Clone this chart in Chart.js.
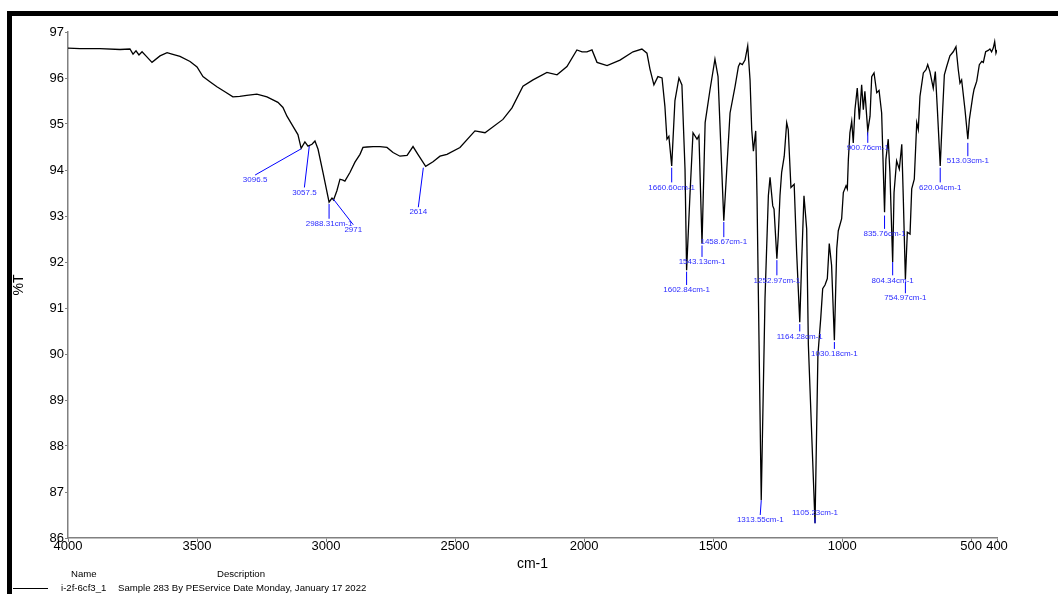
<!DOCTYPE html>
<html>
<head>
<meta charset="utf-8">
<script src="https://cdn.jsdelivr.net/npm/chart.js@4.4.0/dist/chart.umd.min.js"></script>
<style>
  html,body{margin:0;padding:0;background:#fff;}
  body{width:1058px;height:594px;position:relative;overflow:hidden;font-family:"Liberation Sans",Arial,sans-serif;}
  canvas{position:absolute;left:0;top:0;}
  #frame{position:absolute;left:7px;top:11px;right:0;bottom:0;border-top:5px solid #000;border-left:5px solid #000;pointer-events:none;}
  .leg{position:absolute;font-size:9.6px;color:#000;white-space:nowrap;line-height:12px;}
  #legline{position:absolute;left:13px;top:588px;width:35px;height:1px;background:#000;}
</style>
</head>
<body>
<canvas id="ir" width="1058" height="594" style="width:1058px;height:594px"></canvas>
<div id="frame"></div>
<div class="leg" style="left:71px;top:568px">Name</div>
<div class="leg" style="left:217px;top:568px">Description</div>
<div id="legline"></div>
<div class="leg" style="left:61px;top:582px">i-2f-6cf3_1</div>
<div class="leg" style="left:118px;top:582px">Sample 283 By PEService Date Monday, January 17 2022</div>
<script>
const wn = [
  4000, 3953.5, 3876, 3798.5, 3760, 3748, 3736.5, 3725, 3713, 3698,
  3674.5, 3643.5, 3616, 3597, 3566, 3527, 3500, 3477, 3450, 3423,
  3392, 3361, 3334.5, 3307.5, 3268, 3229, 3186.5, 3167, 3151.5, 3128,
  3109, 3096.5, 3082, 3070, 3054.5, 3043, 3031, 3012, 2988.3, 2977,
  2971, 2958, 2946, 2934.5, 2927, 2907, 2888, 2868.5, 2857, 2841,
  2818, 2791, 2764, 2740.5, 2713.5, 2686, 2663, 2644, 2614, 2585.5,
  2558.5, 2531.5, 2481, 2423, 2384, 2314.5, 2279.5, 2237, 2198, 2144,
  2105, 2066.5, 2028, 2008, 1989, 1969.5, 1950, 1911, 1861, 1810.5,
  1776, 1756.5, 1745, 1729.5, 1714, 1698, 1687, 1679, 1671.5, 1660.6,
  1648, 1632.5, 1621, 1609, 1602.8, 1590, 1578, 1562.5, 1555, 1543.1,
  1531, 1512, 1493, 1481, 1458.7, 1434.5, 1415, 1402, 1396, 1387,
  1376.5, 1366, 1357, 1350.5, 1344, 1335, 1330, 1313.6, 1299, 1286,
  1279.5, 1269, 1264, 1253, 1247.5, 1241, 1234.5, 1224.5, 1215, 1209,
  1198.5, 1186, 1176.5, 1164.3, 1157, 1148, 1137.5, 1131, 1105.2, 1094,
  1083, 1075.5, 1066.5, 1057.5, 1050, 1041, 1030.2, 1021, 1015, 1002,
  995.5, 985, 980, 976, 970, 963, 957, 950.5, 941.5, 933.5,
  924.5, 918, 912, 900.8, 892, 885.5, 876.5, 866, 857, 847,
  835.8, 830.5, 821.5, 815, 804.3, 799, 789, 778.5, 769, 763,
  755, 747.5, 737, 730.5, 720.5, 711, 705, 698.5, 685.5, 675,
  668.5, 660, 647, 639, 631, 620, 610.5, 604, 595, 582.5,
  569.5, 559, 550, 543.5, 537, 524, 513, 507, 494, 489,
  478.5, 468.5, 459, 453, 444, 434, 427.5, 421, 414.5, 409,
  404, 400
];
// %T at each wavenumber
const pctT = [
  96.65, 96.64, 96.64, 96.62, 96.63, 96.52, 96.59, 96.50, 96.57, 96.48,
  96.34, 96.48, 96.55, 96.52, 96.47, 96.36, 96.24, 96.03, 95.92, 95.81,
  95.70, 95.59, 95.60, 95.62, 95.65, 95.59, 95.47, 95.36, 95.17, 94.95,
  94.77, 94.47, 94.61, 94.52, 94.56, 94.63, 94.45, 93.95, 93.30, 93.39,
  93.35, 93.55, 93.80, 93.78, 93.76, 93.95, 94.17, 94.34, 94.49, 94.50,
  94.51, 94.51, 94.49, 94.38, 94.30, 94.32, 94.51, 94.34, 94.08, 94.18,
  94.30, 94.34, 94.49, 94.85, 94.81, 95.10, 95.35, 95.82, 95.96, 96.12,
  96.07, 96.25, 96.61, 96.57, 96.57, 96.61, 96.34, 96.27, 96.39, 96.57,
  96.63, 96.54, 96.20, 95.85, 96.03, 96.00, 95.39, 94.67, 94.73, 94.09,
  95.51, 96.00, 95.85, 94.02, 91.82, 93.44, 94.81, 94.67, 94.75, 92.40,
  95.03, 95.75, 96.41, 96.03, 92.90, 95.24, 95.82, 96.25, 96.32, 96.29,
  96.39, 96.70, 95.96, 94.88, 94.41, 94.85, 93.43, 86.82, 91.21, 93.44,
  93.84, 93.22, 93.15, 92.07, 92.58, 93.44, 93.95, 94.30, 95.03, 94.88,
  93.62, 93.69, 92.22, 90.69, 92.00, 93.44, 92.72, 90.20, 86.32, 89.98,
  90.78, 91.42, 91.50, 91.64, 92.40, 91.93, 90.30, 92.29, 92.68, 92.94,
  93.51, 93.66, 93.59, 94.23, 94.81, 95.06, 94.59, 95.31, 95.78, 95.10,
  95.85, 95.31, 95.71, 94.85, 95.17, 96.03, 96.11, 95.68, 95.73, 95.24,
  93.08, 94.23, 94.67, 93.95, 92.00, 93.51, 94.20, 94.02, 94.56, 93.37,
  91.62, 92.65, 92.61, 93.59, 93.80, 95.03, 94.88, 95.60, 96.11, 96.18,
  96.29, 96.14, 95.78, 96.14, 95.31, 94.09, 95.31, 96.07, 96.25, 96.48,
  96.57, 96.68, 96.18, 95.89, 95.96, 95.31, 94.67, 95.10, 95.60, 95.75,
  95.93, 96.29, 96.36, 96.34, 96.57, 96.60, 96.63, 96.57, 96.65, 96.79,
  96.54, 96.61
];
const xTicks = [4000, 3500, 3000, 2500, 2000, 1500, 1000, 500, 400];
const yMin = 86, yMax = 97;

// peak labels: text, peak (wn, %T), end of leader line (wn, %T)
const peakText = ['3096.5','3057.5','2988.31cm-1','2971','2614','1660.60cm-1','1602.84cm-1','1543.13cm-1','1458.67cm-1',
  '1313.55cm-1','1252.97cm-1','1164.28cm-1','1105.23cm-1','1030.18cm-1','900.76cm-1','835.76cm-1','804.34cm-1',
  '754.97cm-1','620.04cm-1','513.03cm-1'];
const peakWn  = [3096.5, 3065, 2988.31, 2972, 2623, 1660.6, 1602.84, 1543.13, 1458.67, 1313.55, 1252.97, 1164.28, 1105.23, 1030.18, 900.76, 835.76, 804.34, 754.97, 620.04, 513.03];
const peakT   = [94.46, 94.52, 93.26, 93.37, 94.05, 94.05, 91.79, 92.36, 92.87, 86.82, 92.04, 90.65, 86.32, 90.26, 94.82, 93.01, 92.00, 91.57, 94.05, 94.59];
const tagWn   = [3275, 3084, 2988.31, 2894.5, 2642.5, 1660.6, 1602.84, 1543.13, 1458.67, 1317.5, 1252.97, 1164.28, 1105.23, 1030.18, 900.76, 835.76, 804.34, 754.97, 620.04, 513.03];
const tagT    = [93.89, 93.62, 92.94, 92.81, 93.19, 93.73, 91.50, 92.11, 92.54, 86.50, 91.71, 90.49, 86.45, 90.11, 94.59, 92.72, 91.71, 91.32, 93.73, 94.30];

const peakPlugin = {
  id: 'peaks',
  afterDatasetsDraw(chart){
    const {ctx, scales:{x, y}} = chart;
    ctx.save();
    ctx.strokeStyle = '#0000ff'; ctx.lineWidth = 1;
    ctx.fillStyle = '#2b2bff';
    ctx.font = '8px "Liberation Sans", Arial, sans-serif';
    ctx.textAlign = 'center'; ctx.textBaseline = 'middle';
    peakText.forEach((t,i)=>{
      const x1 = x.getPixelForValue(peakWn[i]), y1 = y.getPixelForValue(peakT[i]);
      const x2 = x.getPixelForValue(tagWn[i]), y2 = y.getPixelForValue(tagT[i]);
      ctx.beginPath(); ctx.moveTo(x1,y1); ctx.lineTo(x2,y2); ctx.stroke();
      const dir = y2 >= y1 ? 1 : -1;
      ctx.fillText(t, x2, y2 + dir*5);
    });
    ctx.restore();
  }
};

const font = {family:'"Liberation Sans", Arial, sans-serif', size:13};
new Chart(document.getElementById('ir'), {
  type:'line',
  data:{datasets:[{
    data: wn.map((w,i)=>({x:w, y:pctT[i]})),
    borderColor:'#000', borderWidth:1.3, pointRadius:0, tension:0, fill:false
  }]},
  options:{
    responsive:false, animation:false, devicePixelRatio:1,
    layout:{padding:{top:32, right:61, left:0, bottom:0}},
    plugins:{legend:{display:false}, tooltip:{enabled:false}},
    scales:{
      x:{
        type:'linear', reverse:true, min:400, max:4000,
        afterBuildTicks: s => { s.ticks = xTicks.map(v=>({value:v})); },
        afterFit: s => { s.height = 56; },
        ticks:{autoSkip:false, maxRotation:0, color:'#000', font, padding:-3, callback: v => String(v)},
        grid:{display:true, drawOnChartArea:false, drawTicks:true, tickLength:4, color:'#808080'},
        border:{color:'#808080', width:1.5},
        title:{display:true, text:'cm-1', color:'#000', font:{family:font.family, size:14}, padding:{top:0, bottom:21}}
      },
      y:{
        min:yMin, max:yMax,
        afterFit: s => { s.width = 68; },
        ticks:{stepSize:1, color:'#000', font, padding:1, callback: v => String(v)},
        grid:{display:true, drawOnChartArea:false, drawTicks:true, tickLength:3, color:'#808080'},
        border:{color:'#808080', width:1.5},
        title:{display:true, text:'%T', color:'#000', font:{family:font.family, size:14}, padding:{top:11, bottom:0}}
      }
    }
  },
  plugins:[peakPlugin]
});
</script>
</body>
</html>
